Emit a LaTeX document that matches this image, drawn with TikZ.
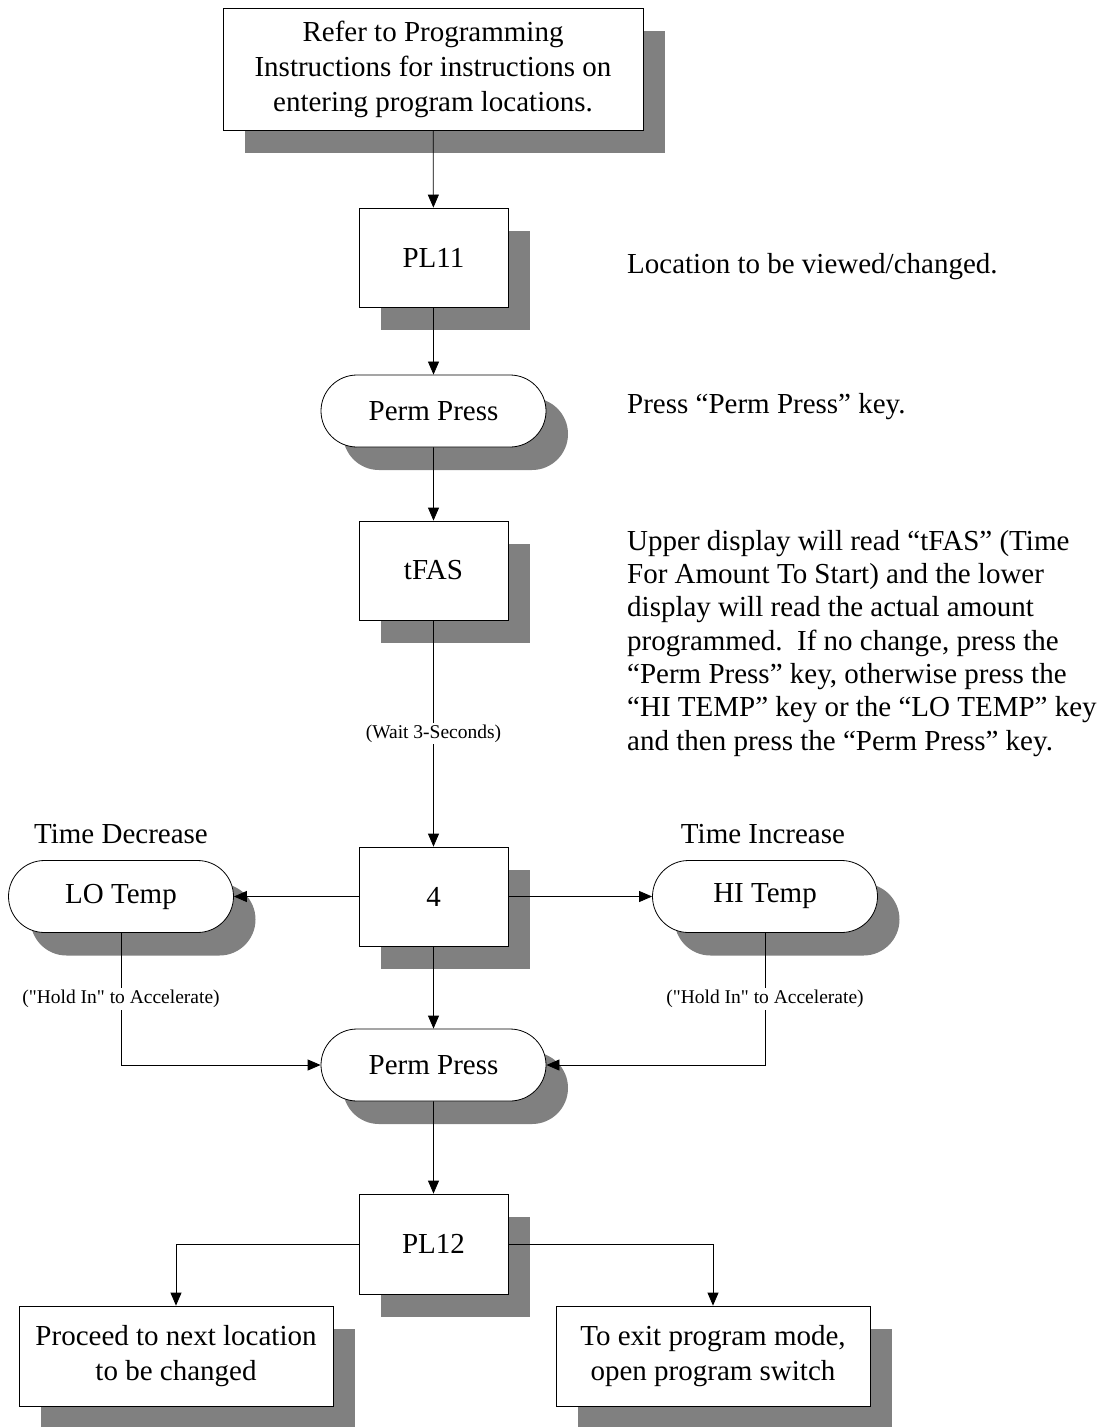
\documentclass[tikz,border=0pt]{standalone}
\usepackage{fontspec}
\setmainfont{Liberation Serif}
\newfontfamily\labfont{Liberation Serif}
\usetikzlibrary{arrows.meta,shapes.misc,shadows}
\definecolor{shgray}{RGB}{128,128,128}
\begin{document}
\begin{tikzpicture}[x=1pt,y=-1pt,
  shd/.style={drop shadow={shadow xshift=22pt,shadow yshift=-23pt,fill=shgray,opacity=1}},
  box/.style={draw,fill=white,line width=0.8pt,inner sep=0pt,align=center,shd,font=\fontsize{29}{35}\selectfont},
  sqbox/.style={box,minimum width=149pt,minimum height=99pt},
  widebox/.style={box,minimum width=314pt,minimum height=100pt},
  pill/.style={box,rounded rectangle,minimum width=225pt,minimum height=72pt},
  arr/.style={line width=0.8pt,-{Triangle[length=13pt,width=11pt]}},
  lab/.style={fill=white,inner sep=2pt,font=\labfont\fontsize{19.5}{22}\selectfont},
  note/.style={inner sep=0pt,align=left,font=\fontsize{29}{33.3}\selectfont},
  head/.style={inner sep=0pt,font=\fontsize{29}{33}\selectfont},
]
\useasboundingbox (0,0) rectangle (1113,1427);
\fill[white] (0,0) rectangle (1113,1427);

% main nodes
\node[box,minimum width=420pt,minimum height=122pt] (top) at (433,69)
  {Refer to Programming\\Instructions for instructions on\\entering program locations.};
\node[sqbox] (pl11) at (433.5,257.5) {PL11};
\node[pill] (pp1) at (433.5,411) {Perm Press};
\node[sqbox] (tfas) at (433.5,570.5) {tFAS};
\node[sqbox] (four) at (433.5,896.5) {4};
\node[pill] (lo) at (121,896.5) {LO Temp};
\node[pill] (hi) at (765,896.5) {HI Temp};
\node[pill] (pp2) at (433.5,1065) {Perm Press};
\node[sqbox,minimum height=100pt] (pl12) at (433.5,1244) {PL12};
\node[widebox] (left) at (176,1356) {Proceed to next location\\to be changed};
\node[widebox] (right) at (713,1356) {To exit program mode,\\open program switch};

% headings
\node[head] (tdec) at (121,834) {Time Decrease};
\node[head] (tinc) at (763,834) {Time Increase};

% notes
\node[note,anchor=base west] (n1) at (627,273) {Location to be viewed/changed.};
\node[note,anchor=base west] (n2) at (627,413) {Press “Perm Press” key.};
\node[note,anchor=north west] (n3) at (627,530)
  {Upper display will read “tFAS” (Time\\
   For Amount To Start) and the lower\\
   display will read the actual amount\\
   programmed.\ \ If no change, press the\\
   “Perm Press” key, otherwise press the\\
   “HI TEMP” key or the “LO TEMP” key\\
   and then press the “Perm Press” key.};

% connectors
\draw[arr] (top) -- (pl11);
\draw[arr] (pl11) -- (pp1);
\draw[arr] (pp1) -- (tfas);
\draw[arr] (tfas) -- node[lab] {(Wait 3-Seconds)} (four);
\draw[arr] (four.west) -- (lo.east);
\draw[arr] (four.east) -- (hi.west);
\draw[arr] (four) -- (pp2);
\coordinate (lc) at (lo.south |- pp2.west);
\coordinate (hc) at (hi.south |- pp2.east);
\draw[arr] (lo.south) -- node[lab] {("Hold In" to Accelerate)} (lc) -- (pp2.west);
\draw[arr] (hi.south) -- node[lab] {("Hold In" to Accelerate)} (hc) -- (pp2.east);
\draw[arr] (pp2) -- (pl12);
\draw[arr] (pl12.west) -| (left.north);
\draw[arr] (pl12.east) -| (right.north);
\end{tikzpicture}
\end{document}
